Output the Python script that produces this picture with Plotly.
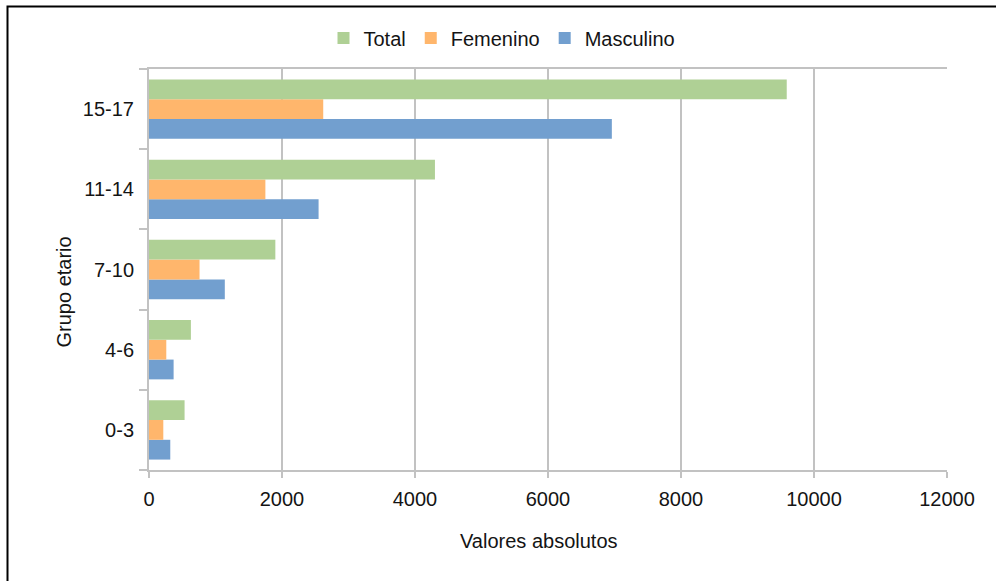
import plotly.graph_objects as go

categories = ["0-3", "4-6", "7-10", "11-14", "15-17"]
total = [535, 630, 1900, 4300, 9590]
femenino = [215, 260, 760, 1750, 2620]
masculino = [320, 370, 1140, 2550, 6960]
x_ticks = [0, 2000, 4000, 6000, 8000, 10000, 12000]

FONT = "Liberation Sans, Arial, sans-serif"
TXT = "#141414"

W, H = 996, 581
L, R, T, B = 149, 947, 69, 470
pw, ph = R - L, B - T

def px_x(x):
    return (x - L) / pw

def px_y(y):
    return (B - y) / ph

fig = go.Figure()
fig.add_trace(go.Bar(y=categories, x=masculino, name="Masculino", orientation="h",
                     marker=dict(color="#729fcf", line=dict(width=0))))
fig.add_trace(go.Bar(y=categories, x=femenino, name="Femenino", orientation="h",
                     marker=dict(color="#ffb66c", line=dict(width=0))))
fig.add_trace(go.Bar(y=categories, x=total, name="Total", orientation="h",
                     marker=dict(color="#afd095", line=dict(width=0))))

fig.update_layout(
    width=W, height=H,
    margin=dict(l=L, r=W - R, t=T, b=H - B, autoexpand=False),
    paper_bgcolor="white", plot_bgcolor="white",
    barmode="group", bargap=0.26, bargroupgap=0,
    font=dict(family=FONT, size=20, color=TXT),
    showlegend=True,
    legend=dict(orientation="h", traceorder="reversed",
                x=px_x(502), xanchor="center", y=px_y(38), yanchor="middle",
                font=dict(family=FONT, size=20, color=TXT),
                itemwidth=30, bgcolor="rgba(0,0,0,0)"),
    xaxis=dict(range=[0, 12000], tickvals=x_ticks, ticktext=[str(v) for v in x_ticks],
               showgrid=True, gridcolor="#c2c2c2", gridwidth=2,
               showline=True, linecolor="#c2c2c2", linewidth=2, mirror=True,
               ticks="outside", ticklen=6, tickcolor="#c2c2c2", tickwidth=2,
               zeroline=False, ticklabelstandoff=4,
               tickfont=dict(family=FONT, size=20, color=TXT)),
    yaxis=dict(type="category", categoryorder="array", categoryarray=categories,
               showgrid=False, showline=True, linecolor="#c2c2c2", linewidth=2,
               ticks="outside", ticklen=8, tickcolor="#c2c2c2", tickwidth=2,
               tickson="boundaries", ticklabelstandoff=9,
               tickfont=dict(family=FONT, size=20, color=TXT)),
)

fig.add_annotation(text="Valores absolutos", xref="paper", yref="paper",
                   x=px_x(539), y=px_y(541), xanchor="center", yanchor="middle",
                   showarrow=False, font=dict(family=FONT, size=20, color=TXT))
fig.add_annotation(text="Grupo etario", xref="paper", yref="paper",
                   x=px_x(63.5), y=px_y(292), xanchor="center", yanchor="middle",
                   textangle=-90, showarrow=False,
                   font=dict(family=FONT, size=20, color=TXT))

fig.add_shape(type="rect", xref="paper", yref="paper",
              x0=px_x(7.5), x1=px_x(1005), y0=px_y(600), y1=px_y(6.5),
              line=dict(color="black", width=2), fillcolor="rgba(0,0,0,0)", layer="above")

fig.write_html("out.html", config={"displayModeBar": False},
               post_script="document.body.style.margin='0';document.body.style.overflow='hidden';")
